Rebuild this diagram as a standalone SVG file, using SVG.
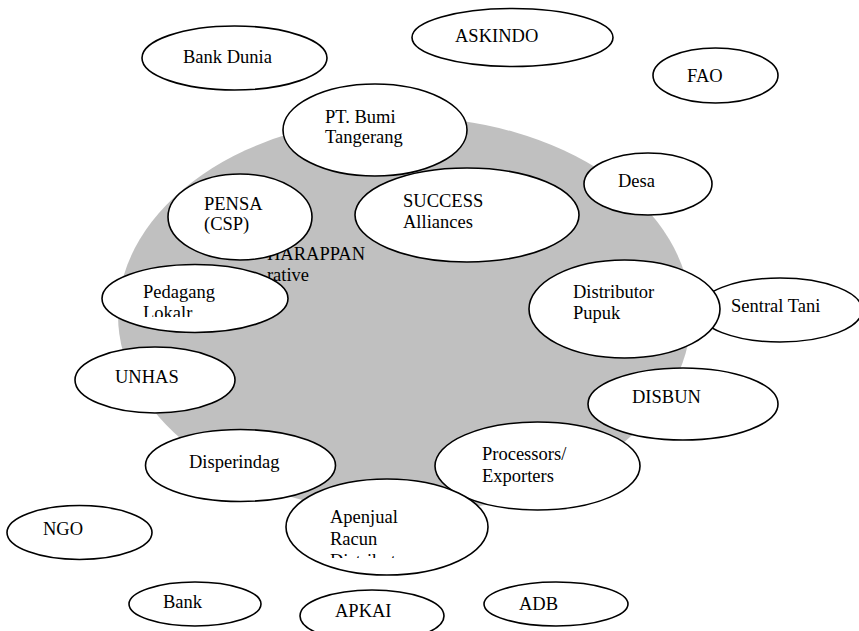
<svg xmlns="http://www.w3.org/2000/svg" width="859" height="631" viewBox="0 0 859 631">
<style>
.n{fill:#fff;stroke:#000;stroke-width:1.6}
.t{font-family:"Liberation Serif","Times New Roman",serif;font-size:18.5px;fill:#000}
</style>
<defs>
<clipPath id="cLok"><rect x="100" y="270" width="200" height="47"/></clipPath>
<clipPath id="cApe"><rect x="280" y="480" width="220" height="78"/></clipPath>
</defs>
<rect width="859" height="631" fill="#fff"/>
<g id="cooperative">
<ellipse cx="404.5" cy="315" rx="286.5" ry="198" fill="#c0c0c0"/>
<text class="t" x="365" y="260" text-anchor="end">HARAPPAN</text>
<text class="t" x="309" y="281" text-anchor="end">rative</text>
</g>
<g id="bank-dunia"><ellipse class="n" cx="234.5" cy="58" rx="92.5" ry="32"/><text class="t" x="183" y="63">Bank Dunia</text></g>
<g id="askindo"><ellipse class="n" cx="512.5" cy="37.5" rx="100.5" ry="29"/><text class="t" x="455" y="42">ASKINDO</text></g>
<g id="fao"><ellipse class="n" cx="715.5" cy="75.5" rx="62.5" ry="27.5"/><text class="t" x="687" y="82">FAO</text></g>
<g id="pt-bumi"><ellipse class="n" cx="375" cy="130" rx="92" ry="46"/><text class="t" x="325" y="123">PT. Bumi</text><text class="t" x="325" y="143">Tangerang</text></g>
<g id="desa"><ellipse class="n" cx="648" cy="184" rx="64" ry="31"/><text class="t" x="618" y="187">Desa</text></g>
<g id="pensa"><ellipse class="n" cx="240" cy="217" rx="72" ry="43"/><text class="t" x="204" y="210">PENSA</text><text class="t" x="204" y="230">(CSP)</text></g>
<g id="success"><ellipse class="n" cx="467" cy="215" rx="112" ry="47"/><text class="t" x="403" y="207">SUCCESS</text><text class="t" x="403" y="228">Alliances</text></g>
<g id="pedagang"><ellipse class="n" cx="195" cy="298.5" rx="93" ry="34"/><g clip-path="url(#cLok)"><text class="t" x="143" y="298">Pedagang</text><text class="t" x="143" y="319">Lokalr</text></g></g>
<g id="sentral-tani"><ellipse class="n" cx="780" cy="310" rx="82" ry="32"/><text class="t" x="731" y="312">Sentral Tani</text></g>
<g id="distributor-pupuk"><ellipse class="n" cx="624.5" cy="309" rx="95.5" ry="49"/><text class="t" x="573" y="298">Distributor</text><text class="t" x="573" y="319">Pupuk</text></g>
<g id="unhas"><ellipse class="n" cx="155" cy="380" rx="80" ry="33"/><text class="t" x="115" y="383">UNHAS</text></g>
<g id="disbun"><ellipse class="n" cx="683" cy="404" rx="95" ry="36"/><text class="t" x="632" y="403">DISBUN</text></g>
<g id="disperindag"><ellipse class="n" cx="240.5" cy="465.5" rx="95" ry="36"/><text class="t" x="189" y="468">Disperindag</text></g>
<g id="processors"><ellipse class="n" cx="537.5" cy="466" rx="102.5" ry="44"/><text class="t" x="482" y="460">Processors/</text><text class="t" x="482" y="482">Exporters</text></g>
<g id="apenjual"><ellipse class="n" cx="387" cy="527" rx="101" ry="48"/><g clip-path="url(#cApe)"><text class="t" x="330" y="523">Apenjual</text><text class="t" x="330" y="545">Racun</text><text class="t" x="330" y="567">Distributor</text></g></g>
<g id="ngo"><ellipse class="n" cx="79.5" cy="532.5" rx="72.5" ry="27"/><text class="t" x="43" y="535">NGO</text></g>
<g id="bank"><ellipse class="n" cx="195" cy="604" rx="66" ry="22"/><text class="t" x="163" y="608">Bank</text></g>
<g id="apkai"><ellipse class="n" cx="372" cy="616" rx="72" ry="26"/><text class="t" x="335" y="617">APKAI</text></g>
<g id="adb"><ellipse class="n" cx="556" cy="604" rx="72" ry="22"/><text class="t" x="519" y="610">ADB</text></g>
</svg>
